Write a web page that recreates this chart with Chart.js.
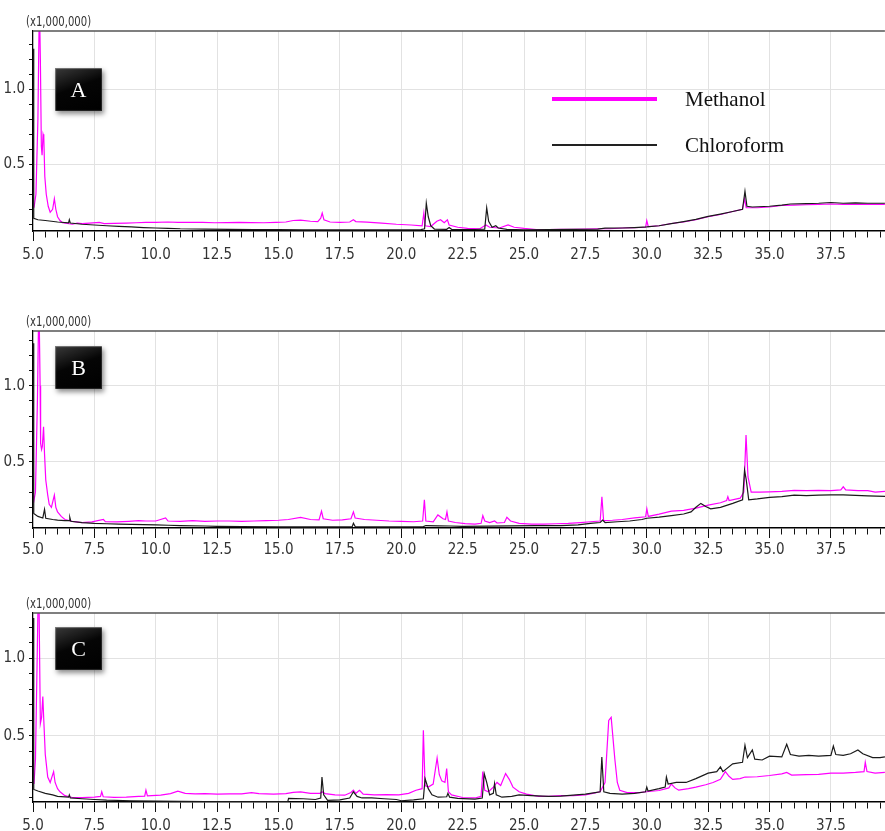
<!DOCTYPE html>
<html>
<head>
  <meta charset="UTF-8">
  <title>Chromatograms A B C</title>
  <script src="https://cdn.jsdelivr.net/npm/chart.js"></script>
  <style>
    body { margin: 0; background: #fff; width: 885px; height: 831px; position: relative; overflow: hidden; }
    .panel { position: absolute; left: 0; width: 885px; }
    .unit { position: absolute; left: 26px; font: 14px 'Liberation Sans Narrow', 'DejaVu Sans Condensed', Arial, sans-serif; color: #333; line-height: 15px; transform: scaleX(0.8); transform-origin: left center; }
    .badge {
      position: absolute; left: 55px; width: 47px; height: 43px;
      background: linear-gradient(160deg, #3a3a3a 0%, #050505 45%, #000 100%);
      box-shadow: 2px 3px 5px rgba(0,0,0,0.45), inset 1px 1px 1px rgba(255,255,255,0.35), inset -1px -1px 1px rgba(255,255,255,0.15);
      color: #fff; font: 22px 'Liberation Serif', 'Times New Roman', serif;
      text-align: center; line-height: 43px;
    }
    .leg-line { position: absolute; left: 552px; width: 105px; }
    .leg-text { position: absolute; left: 685px; font: 21px 'Liberation Serif', 'Times New Roman', serif; color: #111; line-height: 24px; }
  </style>
</head>
<body>
  <div class="panel" id="pA"><canvas id="chartA"></canvas></div>
  <div class="panel" id="pB"><canvas id="chartB"></canvas></div>
  <div class="panel" id="pC"><canvas id="chartC"></canvas></div>

  <div class="leg-line" style="top:97px;height:4px;background:#ff00ff;"></div>
  <div class="leg-text" style="top:87px;">Methanol</div>
  <div class="leg-line" style="top:144px;height:1.5px;background:#222;"></div>
  <div class="leg-text" style="top:133px;">Chloroform</div>

  <script>
    // retention time (min) vs intensity (x1,000,000)
    const seriesNames = ['Methanol', 'Chloroform'];
    const panelLabels = ['A', 'B', 'C'];
    const unitLabel = '(x1,000,000)';

    const methanolA = [[5.04,0.21],[5.12,0.3],[5.2,0.8],[5.26,1.6],[5.3,1.2],[5.34,0.62],[5.37,0.56],[5.41,0.70],[5.44,0.68],[5.48,0.42],[5.54,0.30],[5.62,0.22],[5.7,0.18],[5.8,0.2],[5.87,0.27],[5.93,0.2],[6.0,0.15],[6.1,0.125],[6.2,0.11],[6.4,0.105],[6.6,0.1],[6.8,0.108],[7.0,0.104],[7.3,0.107],[7.7,0.112],[7.9,0.104],[8.3,0.106],[8.8,0.108],[9.2,0.11],[9.6,0.113],[10.0,0.112],[10.5,0.115],[10.9,0.113],[11.4,0.112],[11.9,0.113],[12.4,0.11],[12.9,0.111],[13.4,0.112],[13.9,0.111],[14.4,0.11],[14.9,0.112],[15.3,0.115],[15.6,0.125],[15.9,0.128],[16.3,0.12],[16.6,0.118],[16.72,0.14],[16.78,0.175],[16.85,0.13],[17.1,0.115],[17.5,0.113],[17.9,0.115],[18.05,0.13],[18.15,0.118],[18.6,0.114],[19.2,0.108],[19.8,0.1],[20.4,0.095],[20.85,0.09],[20.92,0.175],[20.97,0.09],[21.2,0.085],[21.45,0.12],[21.6,0.13],[21.75,0.11],[21.88,0.13],[21.95,0.095],[22.3,0.08],[22.7,0.072],[23.2,0.07],[23.45,0.095],[23.6,0.08],[24.0,0.075],[24.35,0.095],[24.6,0.08],[25.0,0.072],[25.5,0.065],[26.0,0.065],[26.5,0.066],[27.0,0.066],[27.5,0.068],[28.0,0.07],[28.5,0.07],[29.0,0.075],[29.5,0.078],[29.95,0.08],[30.0,0.125],[30.06,0.085],[30.5,0.09],[31.0,0.105],[31.5,0.115],[32.0,0.13],[32.5,0.15],[33.0,0.165],[33.5,0.185],[33.9,0.2],[33.98,0.27],[34.05,0.21],[34.5,0.21],[35.0,0.215],[35.5,0.225],[36.0,0.228],[36.5,0.23],[37.0,0.232],[37.5,0.235],[38.0,0.233],[38.5,0.232],[39.0,0.233],[39.7,0.232]];
    const chloroformA = [[5.0,1.27],[5.02,0.6],[5.04,0.14],[5.2,0.13],[5.5,0.125],[6.0,0.115],[6.45,0.11],[6.48,0.13],[6.52,0.108],[7.0,0.1],[7.5,0.095],[8.0,0.09],[8.5,0.086],[9.0,0.082],[9.5,0.078],[10.0,0.075],[10.5,0.073],[11.0,0.07],[12.0,0.068],[13.0,0.066],[14.0,0.065],[15.0,0.064],[16.0,0.063],[17.0,0.063],[18.0,0.063],[19.0,0.063],[20.0,0.063],[20.8,0.064],[20.95,0.07],[21.02,0.24],[21.1,0.15],[21.2,0.09],[21.35,0.068],[21.85,0.066],[21.95,0.078],[22.05,0.066],[23.0,0.065],[23.4,0.068],[23.48,0.21],[23.56,0.12],[23.7,0.08],[23.85,0.09],[23.95,0.075],[24.3,0.066],[25.0,0.063],[26.0,0.064],[27.0,0.066],[28.0,0.068],[28.3,0.074],[29.0,0.075],[29.5,0.078],[30.0,0.082],[30.5,0.09],[31.0,0.104],[31.5,0.118],[32.0,0.133],[32.5,0.152],[33.0,0.168],[33.5,0.185],[33.9,0.2],[34.0,0.32],[34.08,0.22],[34.3,0.215],[35.0,0.22],[35.5,0.228],[35.85,0.235],[36.5,0.237],[37.0,0.24],[37.5,0.245],[38.0,0.24],[38.5,0.242],[39.0,0.24],[39.7,0.24]];

    const methanolB = [[5.02,0.23],[5.1,0.3],[5.18,0.9],[5.24,1.6],[5.29,1.0],[5.31,0.62],[5.35,0.58],[5.38,0.6],[5.43,0.73],[5.47,0.55],[5.52,0.38],[5.6,0.28],[5.66,0.22],[5.75,0.2],[5.87,0.28],[5.93,0.2],[6.0,0.17],[6.15,0.14],[6.3,0.12],[6.6,0.108],[7.0,0.1],[7.4,0.104],[7.87,0.12],[7.95,0.105],[8.4,0.104],[8.9,0.108],[9.3,0.112],[9.6,0.11],[10.0,0.11],[10.4,0.13],[10.5,0.11],[11.0,0.108],[11.5,0.112],[12.0,0.107],[12.5,0.11],[13.0,0.11],[13.5,0.108],[14.0,0.11],[14.5,0.112],[15.0,0.115],[15.4,0.12],[15.9,0.134],[16.3,0.12],[16.65,0.118],[16.75,0.175],[16.82,0.125],[17.2,0.115],[17.6,0.118],[17.95,0.125],[18.05,0.17],[18.12,0.13],[18.5,0.12],[19.0,0.115],[19.5,0.11],[20.0,0.108],[20.5,0.105],[20.87,0.11],[20.94,0.25],[21.0,0.11],[21.3,0.105],[21.49,0.15],[21.7,0.125],[21.8,0.12],[21.86,0.17],[21.92,0.11],[22.2,0.1],[22.6,0.093],[23.0,0.09],[23.25,0.095],[23.32,0.145],[23.4,0.11],[23.6,0.1],[23.8,0.11],[23.9,0.097],[24.2,0.1],[24.3,0.134],[24.45,0.11],[24.8,0.095],[25.3,0.09],[25.8,0.09],[26.3,0.092],[26.8,0.095],[27.3,0.1],[27.7,0.105],[28.1,0.11],[28.17,0.27],[28.24,0.112],[28.6,0.115],[29.0,0.12],[29.5,0.13],[29.95,0.138],[30.0,0.19],[30.06,0.14],[30.5,0.155],[31.0,0.175],[31.5,0.18],[32.0,0.195],[32.5,0.215],[33.0,0.23],[33.25,0.245],[33.3,0.27],[33.35,0.245],[33.8,0.26],[33.95,0.3],[34.04,0.675],[34.12,0.4],[34.25,0.3],[34.6,0.3],[35.0,0.302],[35.5,0.305],[36.0,0.312],[36.5,0.31],[37.0,0.312],[37.5,0.31],[37.9,0.315],[38.0,0.335],[38.1,0.315],[38.6,0.31],[39.0,0.31],[39.3,0.3],[39.7,0.305]];
    const chloroformB = [[5.0,1.28],[5.02,0.6],[5.04,0.16],[5.2,0.14],[5.4,0.13],[5.47,0.187],[5.52,0.128],[5.8,0.12],[6.0,0.116],[6.3,0.112],[6.47,0.112],[6.5,0.134],[6.54,0.108],[7.0,0.1],[7.5,0.095],[8.0,0.092],[8.5,0.09],[9.0,0.088],[9.5,0.086],[10.0,0.085],[10.5,0.082],[11.0,0.08],[12.0,0.077],[12.5,0.075],[13.5,0.074],[15.0,0.072],[16.0,0.071],[17.0,0.072],[18.0,0.073],[18.05,0.095],[18.12,0.074],[19.0,0.072],[20.0,0.072],[20.9,0.073],[21.0,0.08],[21.5,0.078],[22.0,0.077],[22.5,0.075],[23.5,0.076],[24.5,0.078],[25.5,0.079],[26.5,0.08],[27.2,0.084],[27.7,0.095],[28.1,0.1],[28.2,0.116],[28.3,0.1],[28.8,0.105],[29.3,0.11],[29.8,0.12],[30.0,0.128],[30.5,0.135],[31.0,0.145],[31.5,0.156],[31.8,0.17],[32.0,0.2],[32.2,0.226],[32.4,0.205],[32.6,0.19],[33.0,0.2],[33.5,0.226],[33.9,0.25],[33.98,0.445],[34.05,0.38],[34.15,0.25],[34.5,0.255],[35.0,0.265],[35.5,0.27],[36.0,0.28],[36.5,0.277],[37.0,0.28],[37.5,0.282],[38.0,0.282],[38.5,0.278],[39.0,0.275],[39.7,0.272]];

    const methanolC = [[5.04,0.19],[5.1,0.35],[5.17,1.0],[5.23,1.6],[5.27,1.0],[5.3,0.58],[5.35,0.62],[5.4,0.755],[5.44,0.6],[5.5,0.38],[5.6,0.235],[5.7,0.2],[5.84,0.27],[5.9,0.2],[6.0,0.16],[6.1,0.14],[6.3,0.115],[6.6,0.103],[7.0,0.102],[7.5,0.105],[7.75,0.11],[7.8,0.14],[7.86,0.108],[8.3,0.104],[8.8,0.106],[9.3,0.11],[9.55,0.112],[9.6,0.15],[9.66,0.113],[10.2,0.118],[10.6,0.128],[10.9,0.144],[11.2,0.13],[11.6,0.126],[12.0,0.128],[12.5,0.125],[13.0,0.126],[13.5,0.127],[13.9,0.135],[14.2,0.128],[14.8,0.125],[15.3,0.128],[15.6,0.136],[15.9,0.139],[16.3,0.13],[16.7,0.13],[16.77,0.14],[16.9,0.128],[17.3,0.12],[17.7,0.118],[17.95,0.135],[18.05,0.15],[18.15,0.13],[18.3,0.15],[18.45,0.125],[18.9,0.12],[19.4,0.121],[19.9,0.12],[20.3,0.13],[20.6,0.15],[20.85,0.16],[20.9,0.536],[20.97,0.18],[21.1,0.17],[21.3,0.19],[21.46,0.358],[21.55,0.25],[21.65,0.21],[21.78,0.2],[21.85,0.29],[21.92,0.14],[22.05,0.12],[22.5,0.103],[23.0,0.1],[23.25,0.11],[23.32,0.27],[23.4,0.15],[23.55,0.14],[23.75,0.17],[23.9,0.2],[24.05,0.18],[24.25,0.257],[24.4,0.22],[24.55,0.17],[24.8,0.14],[25.1,0.125],[25.6,0.11],[26.0,0.11],[26.5,0.115],[27.0,0.115],[27.5,0.12],[27.8,0.13],[28.1,0.14],[28.3,0.2],[28.45,0.6],[28.55,0.62],[28.7,0.35],[28.8,0.2],[28.9,0.15],[29.2,0.135],[29.7,0.135],[30.0,0.14],[30.5,0.148],[30.9,0.165],[31.0,0.19],[31.15,0.165],[31.3,0.15],[31.7,0.16],[32.0,0.17],[32.4,0.185],[32.7,0.2],[33.0,0.22],[33.2,0.27],[33.35,0.24],[33.5,0.22],[33.8,0.225],[34.0,0.235],[34.5,0.237],[35.0,0.245],[35.5,0.255],[35.7,0.265],[35.9,0.248],[36.5,0.25],[37.0,0.252],[37.5,0.26],[38.0,0.26],[38.5,0.265],[38.85,0.27],[38.9,0.33],[38.97,0.27],[39.3,0.26],[39.7,0.265]];
    const chloroformC = [[5.0,1.26],[5.02,0.6],[5.04,0.155],[5.2,0.145],[5.5,0.13],[5.8,0.12],[6.0,0.11],[6.45,0.105],[6.48,0.12],[6.52,0.1],[7.0,0.095],[7.5,0.09],[8.0,0.086],[9.0,0.082],[10.0,0.079],[11.0,0.078],[12.0,0.077],[13.0,0.077],[14.0,0.077],[15.0,0.077],[15.38,0.078],[15.41,0.097],[16.0,0.095],[16.5,0.09],[16.72,0.1],[16.77,0.235],[16.84,0.12],[17.0,0.085],[17.5,0.088],[17.9,0.1],[18.05,0.14],[18.2,0.11],[18.4,0.1],[18.8,0.1],[19.3,0.095],[19.8,0.09],[20.0,0.082],[20.5,0.088],[20.9,0.095],[20.97,0.225],[21.1,0.16],[21.25,0.12],[21.5,0.105],[21.85,0.108],[21.9,0.13],[21.97,0.105],[22.3,0.098],[23.0,0.093],[23.3,0.1],[23.38,0.257],[23.48,0.2],[23.6,0.12],[23.75,0.13],[23.8,0.193],[23.87,0.12],[24.1,0.105],[24.5,0.11],[24.8,0.12],[25.3,0.115],[26.0,0.11],[26.5,0.112],[27.0,0.118],[27.5,0.125],[27.9,0.135],[28.1,0.14],[28.17,0.364],[28.25,0.14],[28.5,0.13],[29.0,0.125],[29.5,0.13],[29.95,0.14],[30.0,0.17],[30.05,0.145],[30.5,0.16],[30.75,0.17],[30.8,0.235],[30.87,0.19],[31.2,0.2],[31.6,0.2],[32.0,0.225],[32.5,0.26],[32.85,0.27],[33.0,0.3],[33.1,0.27],[33.5,0.32],[33.9,0.33],[34.0,0.44],[34.1,0.36],[34.3,0.41],[34.4,0.35],[34.7,0.345],[35.0,0.37],[35.5,0.365],[35.7,0.446],[35.85,0.38],[36.2,0.37],[36.6,0.375],[37.0,0.37],[37.5,0.375],[37.6,0.435],[37.7,0.38],[38.0,0.375],[38.3,0.385],[38.6,0.41],[38.8,0.385],[39.2,0.36],[39.5,0.36],[39.7,0.365]];

    // axes
    const xMin = 5.0, xMax = 39.7;
    const xMinorStep = 0.5, xMajorStep = 2.5;
    const yMinorStep = 0.1, yMajorStep = 0.5;

    const tickFont = { family: "'Liberation Sans Narrow', 'DejaVu Sans Condensed', Arial, sans-serif", size: 15 };
    const isMultiple = (v, step) => Math.abs(v / step - Math.round(v / step)) < 1e-6;

    // top frame line
    const topBorder = {
      id: 'topBorder',
      afterDraw(chart) {
        const { ctx, chartArea } = chart;
        ctx.save();
        ctx.strokeStyle = '#555';
        ctx.lineWidth = 1.5;
        ctx.beginPath();
        ctx.moveTo(chartArea.left, chartArea.top);
        ctx.lineTo(chartArea.right, chartArea.top);
        ctx.stroke();
        ctx.restore();
      }
    };

    const panels = [
      { id: 'A', top: 0,   plotTop: 31,  plotBottom: 231, yMin: 0.055, yMax: 1.389, labelPad: 5, badgeTop: 68,  methanol: methanolA, chloroform: chloroformA },
      { id: 'B', top: 300, plotTop: 331, plotBottom: 528, yMin: 0.064, yMax: 1.36,  labelPad: 3, badgeTop: 346, methanol: methanolB, chloroform: chloroformB },
      { id: 'C', top: 582, plotTop: 613, plotBottom: 802, yMin: 0.074, yMax: 1.293, labelPad: 5, badgeTop: 627, methanol: methanolC, chloroform: chloroformC }
    ];

    panels.forEach(function (p, i) {
      const box = document.getElementById('p' + p.id);
      box.style.top = p.top + 'px';
      box.style.height = (p.plotBottom - p.top + 30) + 'px';

      const unit = document.createElement('div');
      unit.className = 'unit';
      unit.style.top = (p.plotTop - 17) + 'px';
      unit.textContent = unitLabel;
      document.body.appendChild(unit);

      const badge = document.createElement('div');
      badge.className = 'badge';
      badge.style.top = p.badgeTop + 'px';
      badge.textContent = panelLabels[i];
      document.body.appendChild(badge);

      new Chart(document.getElementById('chart' + p.id), {
        type: 'line',
        data: {
          datasets: [
            { label: seriesNames[1], data: p.chloroform, borderColor: '#1a1a1a', borderWidth: 1.2, pointRadius: 0, tension: 0 },
            { label: seriesNames[0], data: p.methanol, borderColor: '#ff00ff', borderWidth: 1.2, pointRadius: 0, tension: 0 }
          ]
        },
        options: {
          animation: false,
          responsive: true,
          maintainAspectRatio: false,
          layout: { padding: { top: p.plotTop - p.top, left: 0, right: 0, bottom: 0 } },
          plugins: { legend: { display: false }, tooltip: { enabled: false } },
          scales: {
            x: {
              type: 'linear',
              min: xMin,
              max: xMax,
              afterFit: (s) => { s.height = 30; },
              border: { color: '#000', width: 1.5 },
              grid: {
                color: (c) => isMultiple(c.tick.value, xMajorStep) ? '#e2e2e2' : 'rgba(0,0,0,0)',
                lineWidth: 1,
                tickLength: 10,
                tickColor: '#111',
                tickWidth: 1,
                tickBorderDash: (c) => isMultiple(c.tick.value, xMajorStep) ? [] : [6, 20]
              },
              ticks: {
                stepSize: xMinorStep,
                includeBounds: false,
                autoSkip: false,
                maxRotation: 0,
                padding: p.labelPad,
                color: '#333',
                font: tickFont,
                callback: (v) => isMultiple(v, xMajorStep) ? v.toFixed(1) : ''
              }
            },
            y: {
              min: p.yMin,
              max: p.yMax,
              afterFit: (s) => { s.width = 33; },
              border: { color: '#000', width: 1.2 },
              grid: {
                color: (c) => isMultiple(c.tick.value, yMajorStep) ? '#e2e2e2' : 'rgba(0,0,0,0)',
                lineWidth: 1,
                tickLength: 4,
                tickColor: '#111'
              },
              ticks: {
                stepSize: yMinorStep,
                includeBounds: false,
                autoSkip: false,
                padding: 4,
                color: '#333',
                font: tickFont,
                callback: (v) => isMultiple(v, yMajorStep) ? v.toFixed(1) : ''
              }
            }
          }
        },
        plugins: [topBorder]
      });
    });
  </script>
</body>
</html>
